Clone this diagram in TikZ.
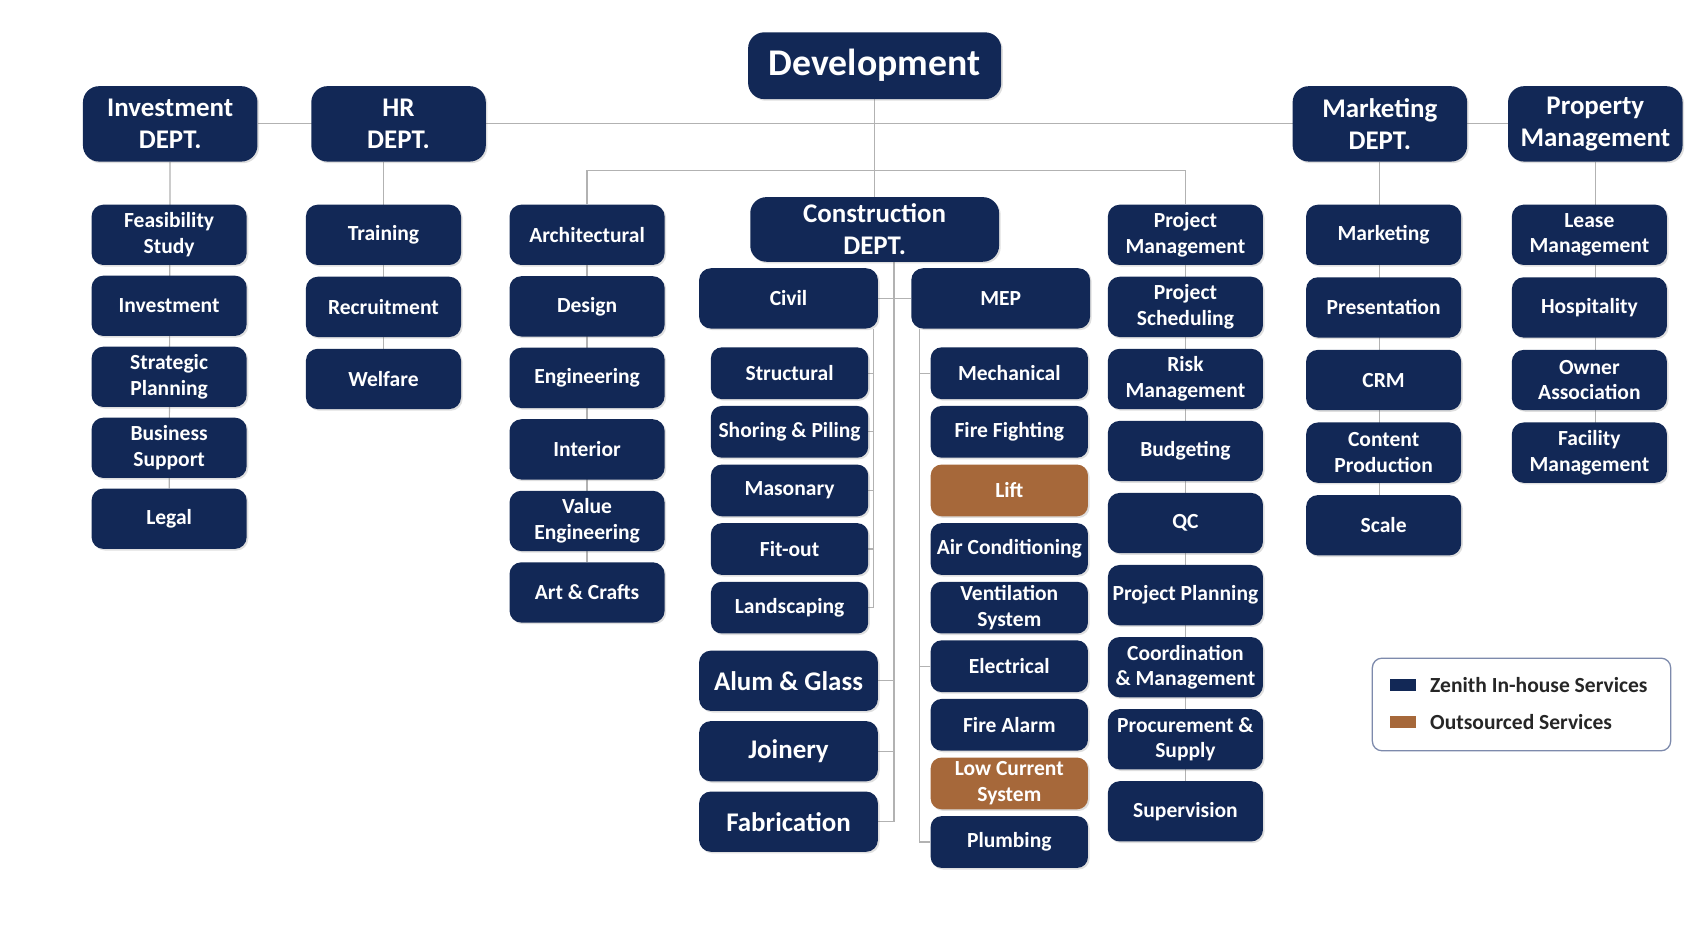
\documentclass[tikz,border=0pt]{standalone}
\usepackage{fontspec}
\setmainfont{Carlito}
\usetikzlibrary{positioning,shadows,backgrounds}

\definecolor{navy}{RGB}{18,40,86}
\definecolor{copper}{RGB}{166,104,58}
\definecolor{wirecol}{RGB}{178,178,178}
\definecolor{legendcol}{RGB}{125,138,172}

\tikzset{
  box/.style={fill=navy,text=white,rounded corners=11pt,align=center,
    font=\bfseries\fontsize{20}{24}\selectfont,
    minimum width=144pt,minimum height=56pt,inner sep=2pt,
    drop shadow={opacity=0.25,shadow xshift=1.5pt,shadow yshift=-1.5pt}},
  trade/.style={box,minimum width=146pt,minimum height=48pt,inner ysep=0.5pt,rounded corners=10pt},
  big/.style={box,minimum width=166pt,font=\bfseries\fontsize{25}{30}\selectfont},
  dept/.style={box,minimum width=162pt,minimum height=70pt,rounded corners=15pt,
    font=\bfseries\fontsize{25}{30}\selectfont},
  outsourced/.style={fill=copper},
  wire/.style={draw=wirecol,line width=1.1pt},
}

\begin{document}
\begin{tikzpicture}[x=1pt,y=-1pt]
  \useasboundingbox (0,0) rectangle (1568,864);

  \node[dept,minimum width=235pt,minimum height=62pt,font=\bfseries\fontsize{35}{40}\selectfont] (dev) at (812,61) {Development};
  \node[dept] (inv) at (158,115) {Investment\\DEPT.};
  \node[dept] (hr) at (370,115) {HR\\DEPT.};
  \node[dept] (mkt) at (1281,115) {Marketing\\DEPT.};
  \node[dept] (prop) at (1481,115) {Property\\Management};

  \node[box] (feas) at (157,218) {Feasibility\\Study};
  \node[box,below=9.5pt of feas] (invest) {Investment};
  \node[box,below=9.5pt of invest] (strat) {Strategic\\Planning};
  \node[box,below=9.5pt of strat] (bus) {Business\\Support};
  \node[box,below=9.5pt of bus] (legal) {Legal};

  \node[box] (train) at (356,218) {Training};
  \node[box,below=10.5pt of train] (recruit) {Recruitment};
  \node[box,below=10.5pt of recruit] (welfare) {Welfare};

  \node[box] (arch) at (545,218) {Architectural};
  \node[box,below=10pt of arch] (design) {Design};
  \node[box,below=10pt of design] (eng) {Engineering};
  \node[box,below=10pt of eng] (interior) {Interior};
  \node[box,below=10pt of interior] (value) {Value\\Engineering};
  \node[box,below=10pt of value] (art) {Art \& Crafts};

  \node[dept,minimum width=231pt,minimum height=60pt] (cons) at (812,213) {Construction\\DEPT.};
  \node[box,minimum width=166pt] (civil) at (732,277) {Civil};
  \node[box,minimum width=166pt] (mep) at (929,277) {MEP};

  \node[trade] (struct) at (733,346.5) {Structural};
  \node[trade,below=6pt of struct] (shore) {Shoring \& Piling};
  \node[trade,below=6pt of shore] (mason) {Masonary};
  \node[trade,below=6pt of mason] (fit) {Fit-out};
  \node[trade,below=6pt of fit] (land) {Landscaping};

  \node[big] (alum) at (732,632) {Alum \& Glass};
  \node[big,below=9pt of alum] (join) {Joinery};
  \node[big,below=9pt of join] (fab) {Fabrication};

  \node[trade] (mech) at (937,346.5) {Mechanical};
  \node[trade,below=6pt of mech] (firef) {Fire Fighting};
  \node[trade,outsourced,below=6pt of firef] (lift) {Lift};
  \node[trade,below=6pt of lift] (air) {Air Conditioning};
  \node[trade,below=6pt of air] (vent) {Ventilation\\System};
  \node[trade,below=6pt of vent] (elec) {Electrical};
  \node[trade,below=6pt of elec] (alarm) {Fire Alarm};
  \node[trade,outsourced,below=6pt of alarm] (lowc) {Low Current\\System};
  \node[trade,below=6pt of lowc] (plumb) {Plumbing};

  \node[box] (pm) at (1100.5,218) {Project\\Management};
  \node[box,below=10.5pt of pm] (sched) {Project\\Scheduling};
  \node[box,below=10.5pt of sched] (risk) {Risk\\Management};
  \node[box,below=10.5pt of risk] (budget) {Budgeting};
  \node[box,below=10.5pt of budget] (qc) {QC};
  \node[box,below=10.5pt of qc] (plan) {Project Planning};
  \node[box,below=10.5pt of plan] (coord) {Coordination\\\& Management};
  \node[box,below=10.5pt of coord] (proc) {Procurement \&\\Supply};
  \node[box,below=10.5pt of proc] (superv) {Supervision};

  \node[box] (mktg) at (1284.5,218) {Marketing};
  \node[box,below=11pt of mktg] (present) {Presentation};
  \node[box,below=11pt of present] (crm) {CRM};
  \node[box,below=11pt of crm] (content) {Content\\Production};
  \node[box,below=11pt of content] (scale) {Scale};

  \node[box] (lease) at (1475.5,218) {Lease\\Management};
  \node[box,below=11pt of lease] (hosp) {Hospitality};
  \node[box,below=11pt of hosp] (owner) {Owner\\Association};
  \node[box,below=11pt of owner] (facil) {Facility\\Management};

  \node[draw=legendcol,line width=1.2pt,rounded corners=9pt,fill=white,
    minimum width=277pt,minimum height=86pt] (legend) at (1412.5,654) {};
  \node[fill=navy,minimum width=25pt,minimum height=11pt,inner sep=0pt] (key1) at (1302.5,636) {};
  \node[fill=copper,minimum width=25pt,minimum height=11pt,inner sep=0pt] (key2) at (1302.5,670) {};
  \node[right=9pt of key1,font=\bfseries\fontsize{20}{24}\selectfont,text=black!85] {Zenith In-house Services};
  \node[right=9pt of key2,font=\bfseries\fontsize{20}{24}\selectfont,text=black!85] {Outsourced Services};

  \begin{scope}[on background layer]
    \fill[white] (0,0) rectangle (1568,864);
    \coordinate (split) at (812,158);
    \coordinate (civbus) at ([xshift=-4pt]civil.south east);
    \coordinate (consbus) at ([xshift=18pt]cons.south);
    \coordinate (mepbus) at ([xshift=8pt]mep.south west);

    \draw[wire] (inv) -- (prop);
    \draw[wire] (dev) -- (cons);
    \draw[wire] (arch) |- (split) -| (pm);
    \draw[wire] (inv) -- (legal);
    \draw[wire] (train |- hr.south) -- (welfare);
    \draw[wire] (arch) -- (art);
    \draw[wire] (pm) -- (superv);
    \draw[wire] (mkt.south) -- (mkt.south |- scale);
    \draw[wire] (prop.south) -- (prop.south |- facil);
    \draw[wire] (civil) -- (mep);

    \draw[wire] (civbus) |- (land.east);
    \foreach \n in {struct,shore,mason,fit}
      \draw[wire] (\n.east) -- (\n.east -| civbus);

    \draw[wire] (consbus) |- (fab.east);
    \foreach \n in {alum,join}
      \draw[wire] (\n.east) -- (\n.east -| consbus);

    \draw[wire] (mepbus) |- (plumb.west);
    \foreach \n in {mech,elec}
      \draw[wire] (\n.west) -- (\n.west -| mepbus);
  \end{scope}
\end{tikzpicture}
\end{document}
